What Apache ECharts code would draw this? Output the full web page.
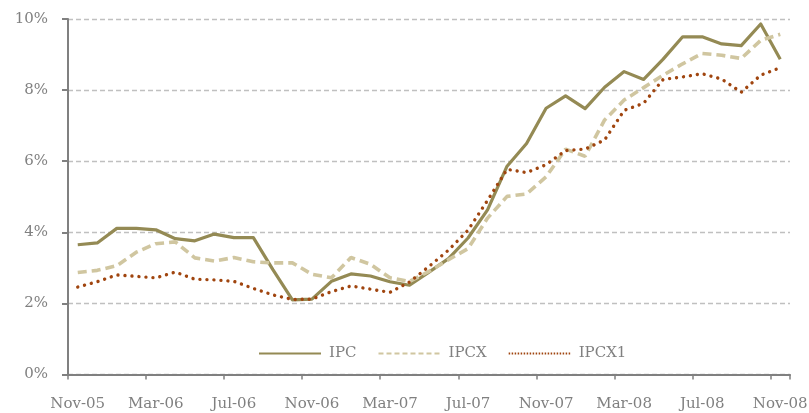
<!DOCTYPE html>
<html>
<head>
<meta charset="utf-8">
<script src="https://cdn.jsdelivr.net/npm/echarts@6/dist/echarts.min.js"></script>
<style>
  html, body { margin: 0; padding: 0; background: #ffffff; }
  #chart { width: 809px; height: 413px; }
</style>
</head>
<body>
<div id="chart"></div>
<script>
const months = [
  'Nov-05','Dec-05','Jan-06','Feb-06','Mar-06','Apr-06','May-06','Jun-06','Jul-06','Aug-06','Sep-06','Oct-06',
  'Nov-06','Dec-06','Jan-07','Feb-07','Mar-07','Apr-07','May-07','Jun-07','Jul-07','Aug-07','Sep-07','Oct-07',
  'Nov-07','Dec-07','Jan-08','Feb-08','Mar-08','Apr-08','May-08','Jun-08','Jul-08','Aug-08','Sep-08','Oct-08',
  'Nov-08'
];
const ipc = [3.65, 3.70, 4.11, 4.11, 4.07, 3.82, 3.76, 3.95, 3.85, 3.85, 2.95, 2.10,
             2.12, 2.62, 2.83, 2.77, 2.61, 2.51, 2.88, 3.26, 3.84, 4.63, 5.86, 6.50,
             7.49, 7.84, 7.48, 8.08, 8.52, 8.30, 8.87, 9.50, 9.50, 9.30, 9.25, 9.86,
             8.87];
const ipcx = [2.87, 2.93, 3.06, 3.44, 3.68, 3.73, 3.28, 3.19, 3.29, 3.17, 3.14, 3.14,
              2.82, 2.72, 3.29, 3.10, 2.72, 2.62, 2.90, 3.23, 3.54, 4.40, 5.01, 5.08,
              5.56, 6.34, 6.14, 7.16, 7.72, 8.07, 8.42, 8.74, 9.03, 8.98, 8.89, 9.40,
              9.57];
const ipcx1 = [2.46, 2.61, 2.80, 2.76, 2.72, 2.88, 2.68, 2.66, 2.62, 2.42, 2.24, 2.11,
               2.12, 2.33, 2.49, 2.40, 2.31, 2.60, 3.04, 3.50, 4.06, 4.90, 5.77, 5.68,
               5.90, 6.30, 6.34, 6.60, 7.43, 7.63, 8.30, 8.37, 8.46, 8.31, 7.94, 8.42,
               8.63];
const yTicks = { min: 0, max: 10, step: 2 };

const FONT = 'DejaVu Serif';
const GREY = '#808080';
const C_IPC = '#948A54';
const C_IPCX = '#D0C6A0';
const C_IPCX1 = '#A0450F';

const hiddenSymbol = { opacity: 0, color: 'rgba(0,0,0,0)', borderWidth: 0 };

const chart = echarts.init(document.getElementById('chart'), null, { renderer: 'canvas' });
chart.setOption({
  animation: false,
  backgroundColor: '#ffffff',
  grid: { left: 68, right: 19, top: 19, bottom: 38.5, containLabel: false, outerBoundsMode: 'none' },
  legend: {
    left: 253, top: 341,
    itemWidth: 62, itemHeight: 14, itemGap: 21,
    textStyle: { fontFamily: FONT, fontSize: 15, color: GREY, padding: [0, 0, 0, 3] },
    itemStyle: hiddenSymbol,
    data: [
      { name: 'IPC', itemStyle: hiddenSymbol, lineStyle: { width: 2, type: 'solid', color: C_IPC } },
      { name: 'IPCX', itemStyle: hiddenSymbol, lineStyle: { width: 2, type: [5, 3], color: C_IPCX } },
      { name: 'IPCX1', itemStyle: hiddenSymbol, lineStyle: { width: 2, type: [1.5, 1.5], cap: 'butt', color: C_IPCX1 } }
    ]
  },
  xAxis: {
    type: 'category',
    data: months,
    boundaryGap: true,
    axisLine: { lineStyle: { color: GREY, width: 2 } },
    axisTick: { show: true, interval: 3, length: 5, lineStyle: { color: GREY, width: 1.5 } },
    axisLabel: { interval: 3, margin: 22, fontFamily: FONT, fontSize: 15, color: GREY },
    splitLine: { show: false }
  },
  yAxis: {
    type: 'value',
    min: yTicks.min, max: yTicks.max, interval: yTicks.step,
    axisLine: { show: true, lineStyle: { color: GREY, width: 2 } },
    axisTick: { show: true, length: 6, lineStyle: { color: GREY, width: 2 } },
    axisLabel: { formatter: '{value}%', margin: 20, fontFamily: FONT, fontSize: 15, color: GREY },
    splitLine: { show: true, lineStyle: { color: '#C0C0C0', width: 1.3, type: [5, 3] } }
  },
  series: [
    { name: 'IPC', type: 'line', data: ipc, symbol: 'none', smooth: false,
      lineStyle: { color: C_IPC, width: 3.2, type: 'solid', join: 'round' }, itemStyle: { color: C_IPC }, z: 2 },
    { name: 'IPCX', type: 'line', data: ipcx, symbol: 'none', smooth: false,
      lineStyle: { color: C_IPCX, width: 3.6, type: [9, 5] }, itemStyle: { color: C_IPCX }, z: 3 },
    { name: 'IPCX1', type: 'line', data: ipcx1, symbol: 'none', smooth: false,
      lineStyle: { color: C_IPCX1, width: 3.4, type: [0.01, 7], cap: 'round' }, itemStyle: { color: C_IPCX1 }, z: 4 }
  ]
});
</script>
</body>
</html>
